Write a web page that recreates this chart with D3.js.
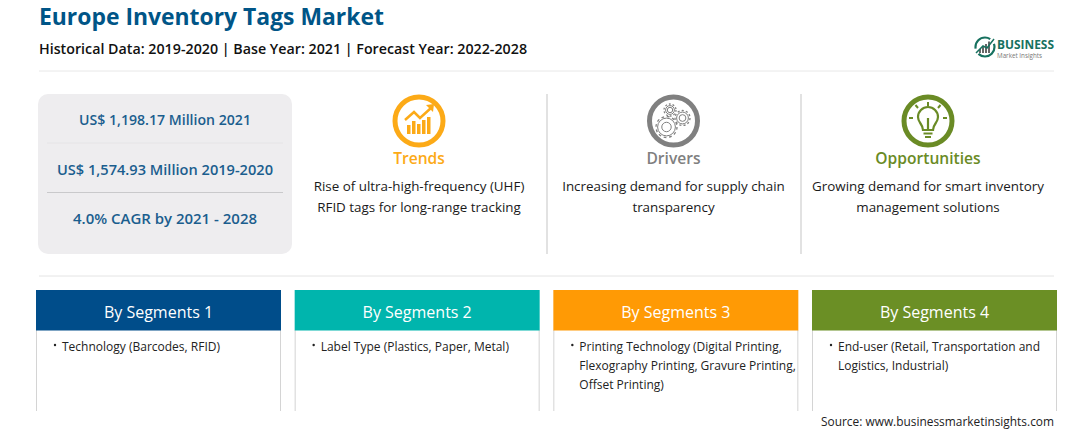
<!DOCTYPE html>
<html><head><meta charset="utf-8">
<script src="https://cdnjs.cloudflare.com/ajax/libs/d3/7.8.5/d3.min.js"></script>
<style>html,body{margin:0;padding:0;background:#fff}svg{display:block}text{font-family:"Open Sans","Noto Sans",sans-serif}</style>
</head><body><svg id="c" width="1092" height="430"></svg>
<script>
const title="Europe Inventory Tags Market";
const subtitle="Historical Data: 2019-2020 | Base Year: 2021 | Forecast Year: 2022-2028";
const stats=["US$ 1,198.17 Million 2021","US$ 1,574.93 Million 2019-2020","4.0% CAGR by 2021 - 2028"];
const factorNames=["Trends","Drivers","Opportunities"];
const factorColors=["#fcaa17","#808080","#6a8b25"];
const factorText=[["Rise of ultra-high-frequency (UHF)","RFID tags for long-range tracking"],["Increasing demand for supply chain","transparency"],["Growing demand for smart inventory","management solutions"]];
const segNames=["By Segments 1","By Segments 2","By Segments 3","By Segments 4"];
const segColors=["#004d8a","#00b5ad","#ff9a05","#6b8f25"];
const segText=[["Technology (Barcodes, RFID)"],["Label Type (Plastics, Paper, Metal)"],["Printing Technology (Digital Printing,","Flexography Printing, Gravure Printing,","Offset Printing)"],["End-user (Retail, Transportation and","Logistics, Industrial)"]];
const source="Source: www.businessmarketinsights.com";

const svg=d3.select("#c");
const T=(x,y,s,size,fill,anchor,weight)=>svg.append("text").attr("x",x).attr("y",y).text(s).attr("font-size",size).attr("fill",fill).attr("text-anchor",anchor||"start").attr("font-weight",weight||400);
const L=(x1,y1,x2,y2,c,w)=>svg.append("line").attr("x1",x1).attr("y1",y1).attr("x2",x2).attr("y2",y2).attr("stroke",c).attr("stroke-width",w||1);

T(39,25,title,22.9,"#005587","start",700);
T(39,54,subtitle,14.25,"#111","start",600);
L(39,71,1054,71,"#e8e8e8");
L(39,276,1054,276,"#e4e4e4");

// logo
const logo=svg.append("g").attr("transform","translate(985,47)");
logo.append("circle").attr("r",9.5).attr("fill","none").attr("stroke","#17715f").attr("stroke-width",2.2).attr("stroke-dasharray","22 6");
[-6,-3,0,3].forEach((x,i)=>logo.append("rect").attr("x",x).attr("y",2-i*2.5).attr("width",2).attr("height",4+i*2.5).attr("fill","#666"));
logo.append("path").attr("d","M-9 6L-2 -1L2 1L9 -8").attr("fill","none").attr("stroke","#17715f").attr("stroke-width",1.5);
T(997,49,"BUSINESS",12,"#17715f","start",700).attr("textLength",57).attr("lengthAdjust","spacingAndGlyphs");
T(997,58,"Market Insights",7,"#777","start",400).attr("textLength",45).attr("lengthAdjust","spacingAndGlyphs");

// stats panel
svg.append("rect").attr("x",38).attr("y",94).attr("width",254).attr("height",160).attr("rx",10).attr("fill","#eeedef");
L(47,143,283,143,"#e5e4e6");
L(47,192.5,283,192.5,"#c9c9cb");
const statY=d3.scalePoint().domain(d3.range(stats.length)).range([125,224]);
stats.forEach((s,i)=>T(165,statY(i),s,14.6,"#1b5e8e","middle",600).attr("textLength",[172,216,184][i]).attr("lengthAdjust","spacingAndGlyphs"));

// factors
const fx=d3.scalePoint().domain(d3.range(3)).range([419,928]);
L(547,94,547,254,"#d9d9d9",1.5);
L(801,94,801,254,"#d9d9d9",1.5);
factorNames.forEach((n,i)=>{
  const cx=fx(i),c=factorColors[i];
  const g=svg.append("g").attr("transform",`translate(${cx},121)`);
  g.append("circle").attr("r",24).attr("fill","none").attr("stroke",c).attr("stroke-width",5);
  if(i===0){
    [-12,-7,-2,3,8].forEach((x,k)=>g.append("rect").attr("x",x).attr("y",[4,0,3,-1,-4][k]).attr("width",3.5).attr("height",13-[4,0,3,-1,-4][k]).attr("fill",c));
    g.append("path").attr("d","M-14 -1L-5 -9L1 -3L12 -13").attr("fill","none").attr("stroke",c).attr("stroke-width",2.5);
    g.append("path").attr("d","M7 -16L15 -17L14 -9Z").attr("fill",c);
  } else if(i===1){
    [[-7,6,10.5,12],[-3.5,-11,6,10],[9,-3,7.5,11]].forEach(([x,y,r,t])=>{
      const gg=g.append("g").attr("transform",`translate(${x},${y})`);
      gg.append("circle").attr("r",r).attr("fill","none").attr("stroke",c).attr("stroke-width",1.3).attr("stroke-dasharray",`${2*Math.PI*r/t/2} ${2*Math.PI*r/t/2}`);
      gg.append("circle").attr("r",r-1.6).attr("fill","none").attr("stroke",c).attr("stroke-width",1);
      gg.append("circle").attr("r",r*0.45).attr("fill","none").attr("stroke",c).attr("stroke-width",1);
    });
  } else {
    g.append("path").attr("d","M-5 9C-5 3 -10 2 -10 -4A10 10 0 0 1 10 -4C10 2 5 3 5 9Z").attr("fill","none").attr("stroke",c).attr("stroke-width",2.2);
    g.append("path").attr("d","M-4.5 12.5H4.5M-3 16H3M0 8V-3").attr("fill","none").attr("stroke",c).attr("stroke-width",2.2);
    [[-15,-3,-19,-3],[15,-3,19,-3],[0,-15,0,-19],[-10,-13,-12.5,-16],[10,-13,12.5,-16]].forEach(a=>g.append("line").attr("x1",a[0]).attr("y1",a[1]).attr("x2",a[2]).attr("y2",a[3]).attr("stroke",c).attr("stroke-width",2));
  }
  T(cx,164,n,15.6,c,"middle",600);
  factorText[i].forEach((s,k)=>T(cx+(i===2?0:0),191+k*21,s,13.4,"#1a1a1a","middle"));
});

// segments
const sx=d3.scalePoint().domain(d3.range(4)).range([36,812]);
const segW=245;
segNames.forEach((n,i)=>{
  const x=sx(i);
  L(x+.5,330,x+.5,411,"#d4d4d4");
  L(x+segW-.5,330,x+segW-.5,411,"#d4d4d4");
  svg.append("rect").attr("x",x).attr("y",290).attr("width",segW).attr("height",40.5).attr("fill",segColors[i]);
  T(x+segW/2,318,n,16,"#fff","middle",400);
  segText[i].forEach((s,k)=>{
    if(k===0) svg.append("circle").attr("cx",x+19).attr("cy",345).attr("r",1.2).attr("fill","#222");
    T(x+26,351+k*19,s,12,"#222");
  });
});
T(1054,426,source,11.9,"#222","end");
</script></body></html>
